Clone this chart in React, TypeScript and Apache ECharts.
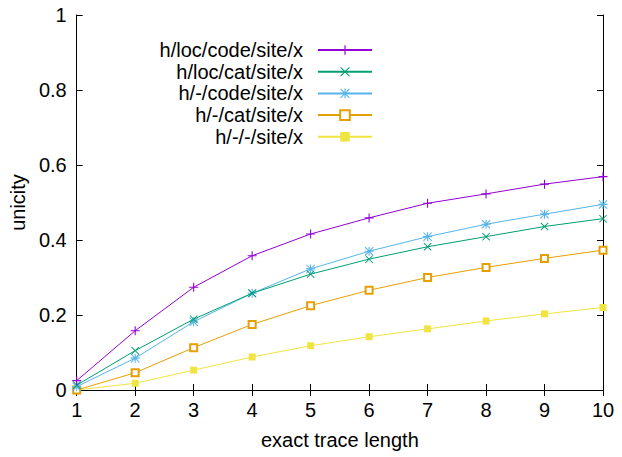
import React, { useEffect, useRef } from "react";
import * as echarts from "echarts";

const categories = [1, 2, 3, 4, 5, 6, 7, 8, 9, 10];
const seriesNames = [
  "h/loc/code/site/x",
  "h/loc/cat/site/x",
  "h/-/code/site/x",
  "h/-/cat/site/x",
  "h/-/-/site/x",
];
const locCode = [0.025, 0.158, 0.274, 0.358, 0.416, 0.459, 0.498, 0.523, 0.549, 0.569];
const locCat = [0.013, 0.105, 0.189, 0.258, 0.309, 0.349, 0.382, 0.409, 0.436, 0.457];
const noneCode = [0.009, 0.085, 0.182, 0.258, 0.323, 0.370, 0.409, 0.442, 0.469, 0.495];
const noneCat = [0.0, 0.046, 0.113, 0.175, 0.225, 0.266, 0.300, 0.327, 0.351, 0.373];
const noneNone = [0.0, 0.018, 0.053, 0.088, 0.118, 0.142, 0.163, 0.184, 0.203, 0.220];
const yTicks = [0, 0.2, 0.4, 0.6, 0.8, 1];

const colors = ["#9400d3", "#009e73", "#56b4e9", "#e69f00", "#f0e442"];
const plusPath = "path://M4.4,0h1.2v10h-1.2z M0,4.4h10v1.2h-10z";
const crossPath =
  "path://M0.8,0L5,4.2L9.2,0L10,0.8L5.8,5L10,9.2L9.2,10L5,5.8L0.8,10L0,9.2L4.2,5L0,0.8z";
const starPath =
  "path://M4.4,0h1.2v10h-1.2z M0,4.4h10v1.2h-10z M0.8,0L5,4.2L9.2,0L10,0.8L5.8,5L10,9.2L9.2,10L5,5.8L0.8,10L0,9.2L4.2,5L0,0.8z";
const symbols = [plusPath, crossPath, starPath, "emptyRect", "rect"];
const symbolSizes = [9, 8, 9, 7, 7];
const seriesData = [locCode, locCat, noneCode, noneCat, noneNone];

export default function App() {
  const ref = useRef<HTMLDivElement>(null);
  useEffect(() => {
    if (!ref.current) return;
    const chart = echarts.init(ref.current, null, { renderer: "svg" });
    const font = "Liberation Sans, Arial, sans-serif";
    const pairs = (arr: number[]) => arr.map((v, i) => [categories[i], v]);
    chart.setOption({
      animation: false,
      textStyle: { fontFamily: font },
      grid: { left: 65, right: 19, top: 15, bottom: 67 },
      legend: {
        data: seriesNames,
        orient: "vertical",
        align: "right",
        right: 244,
        top: 35,
        itemWidth: 54,
        itemHeight: 12,
        itemGap: 1.7,
        textStyle: { fontSize: 20, color: "#000", fontFamily: font, padding: [0, 10, 0, 0] },
      },
      xAxis: [
        {
          type: "value",
          min: 1,
          max: 10,
          interval: 1,
          name: "exact trace length",
          nameLocation: "middle",
          nameGap: 40,
          nameTextStyle: { fontSize: 20, color: "#000", fontFamily: font },
          axisLine: { lineStyle: { color: "#000", width: 1 } },
          axisTick: { inside: true, length: 6, lineStyle: { color: "#000" } },
          axisLabel: { fontSize: 20, color: "#000", margin: 10, fontFamily: font },
          splitLine: { show: false },
        },
        {
          type: "value",
          position: "top",
          min: 1,
          max: 10,
          interval: 1,
          axisLine: { lineStyle: { color: "#000", width: 1 } },
          axisTick: { inside: true, length: 6, lineStyle: { color: "#000" } },
          axisLabel: { show: false },
          splitLine: { show: false },
        },
      ],
      yAxis: [
        {
          type: "value",
          min: 0,
          max: 1,
          interval: 0.2,
          name: "unicity",
          nameLocation: "middle",
          nameGap: 31,
          nameRotate: 90,
          nameTextStyle: { fontSize: 20, color: "#000", fontFamily: font },
          axisLine: { show: true, lineStyle: { color: "#000", width: 1 } },
          axisTick: { show: true, inside: true, length: 6, lineStyle: { color: "#000" } },
          axisLabel: {
            fontSize: 20,
            color: "#000",
            margin: 10,
            fontFamily: font,
            formatter: (v: number) => {
              const t = yTicks.find((y) => Math.abs(y - v) < 1e-9);
              return t === undefined ? "" : String(t);
            },
          },
          splitLine: { show: false },
        },
        {
          type: "value",
          position: "right",
          min: 0,
          max: 1,
          interval: 0.2,
          axisLine: { show: true, lineStyle: { color: "#000", width: 1 } },
          axisTick: { show: true, inside: true, length: 6, lineStyle: { color: "#000" } },
          axisLabel: { show: false },
          splitLine: { show: false },
        },
      ],
      series: seriesNames.map((name, i) => ({
        name,
        type: "line",
        xAxisIndex: 0,
        yAxisIndex: 0,
        data: pairs(seriesData[i]),
        symbol: symbols[i],
        symbolSize: symbolSizes[i],
        showAllSymbol: true,
        lineStyle: { color: colors[i], width: 1 },
        itemStyle: {
          color: colors[i],
          borderColor: colors[i],
          borderWidth: i === 3 ? 1 : 0,
        },
        emphasis: { disabled: true },
        z: 10 - i,
      })),
    });
    return () => chart.dispose();
  }, []);
  return (
    <div
      ref={ref}
      style={{ position: "absolute", left: 0, top: 0, width: 622, height: 457 }}
    />
  );
}
